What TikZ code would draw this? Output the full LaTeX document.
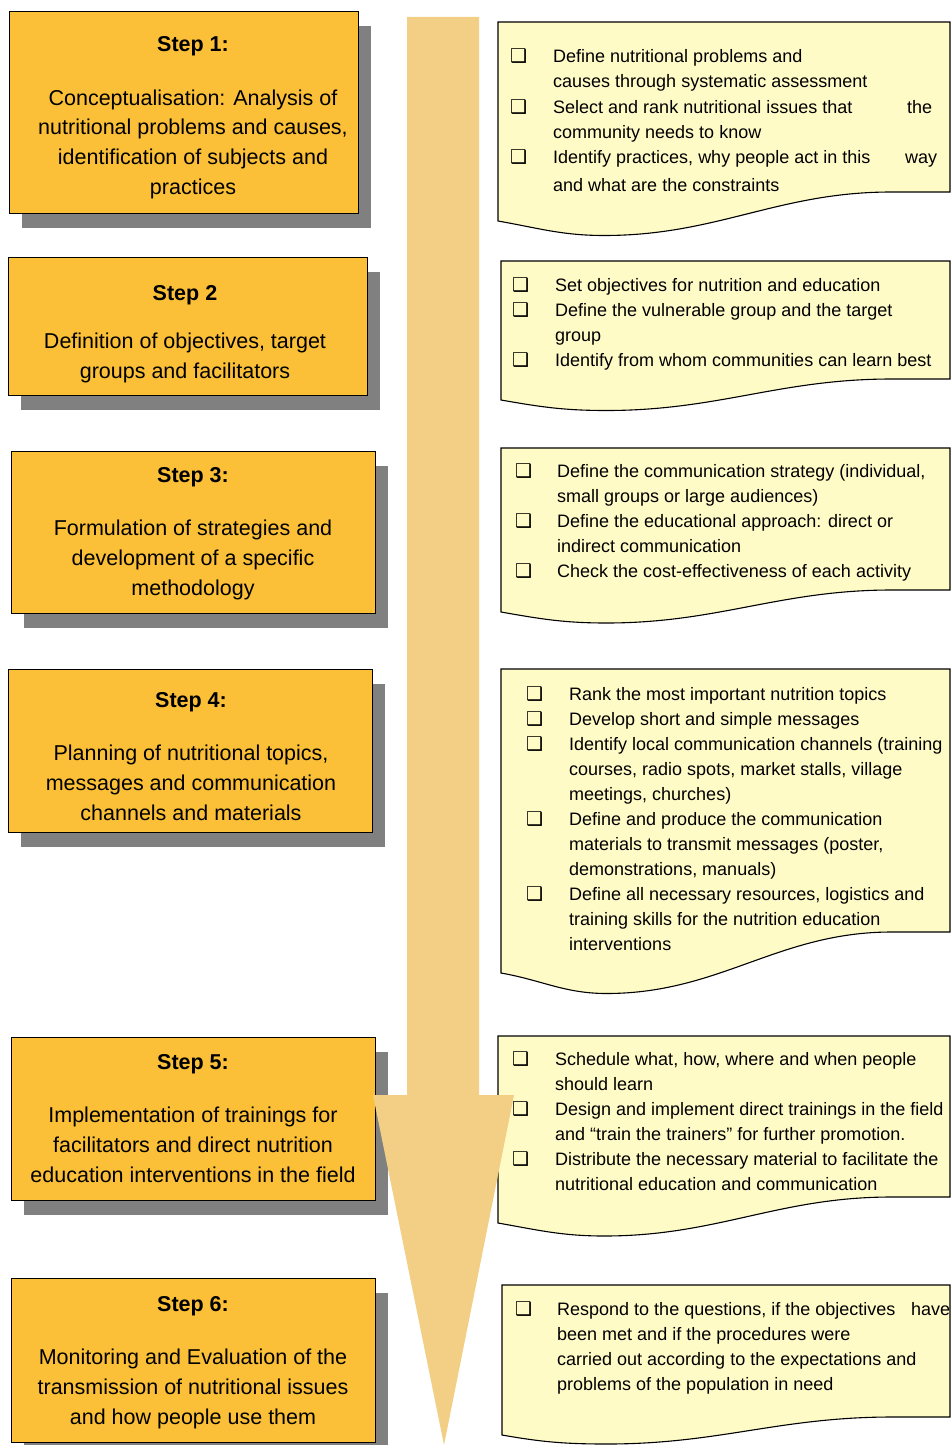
\documentclass[tikz,border=0pt]{standalone}
\usepackage{fontspec}
\setmainfont{Liberation Sans}
\newfontfamily\dejavu{DejaVu Sans}
\usetikzlibrary{shadows}
\definecolor{boxorange}{RGB}{251,192,55}
\definecolor{shadowgray}{RGB}{128,128,128}
\definecolor{docyellow}{RGB}{255,251,198}
\definecolor{arrowtan}{RGB}{242,207,133}
\newcounter{lnr}
\newcommand\stitlefont{\fontsize{21.5}{30}\selectfont\bfseries}
\newcommand\sbodyfont{\fontsize{21.5}{30}\selectfont}
\newcommand\dbodyfont{\fontsize{18}{25}\selectfont}
\newcommand\bulletfont{\fontsize{19}{25}\dejavu}
% centred line in a step box
\newcommand\sline[4]{\stepcounter{lnr}\node[#1] (t\arabic{lnr}) at (#2,#3) {#4};}
% line in a document box
\newcommand\dline[3]{\stepcounter{lnr}\node[dl] (t\arabic{lnr}) at (#1,#2) {#3};}
\newcommand\bline[2]{\stepcounter{lnr}\node[bul] (b\arabic{lnr}) at (#1,#2) {❑};}
% document shape: L T R B a
\newcommand\docshape[5]{%
  \pgfmathsetmacro\dsxa{#1+0.87*(#3-#1)}%
  \pgfmathsetmacro\dsxb{#1+0.235*(#3-#1)}%
  \pgfmathsetmacro\dsya{#4-2*#5}%
  \pgfmathsetmacro\dsyb{#4+#5}%
  \path[docbox] (#1,#2) -- (#3,#2) -- (#3,\dsya) -- (\dsxa,\dsya)
    to[out=180,in=0] (\dsxb,\dsyb)
    to[out=180,in=-10] (#1,#4) -- cycle;}
\begin{document}
\begin{tikzpicture}[x=1pt,y=-1pt,
  stepbox/.style={draw=black,line width=1.2pt,fill=boxorange,anchor=north west,
    inner sep=0pt,
    drop shadow={shadow xshift=12pt,shadow yshift=-14pt,fill=shadowgray,opacity=1}},
  docbox/.style={draw=black,line width=1.1pt,fill=docyellow},
  ttl/.style={font=\stitlefont,anchor=base,inner sep=0pt},
  bdy/.style={font=\sbodyfont,anchor=base,inner sep=0pt},
  dl/.style={font=\dbodyfont,anchor=base west,inner sep=0pt},
  bul/.style={font=\bulletfont,anchor=base west,inner sep=0pt},
]
\useasboundingbox (0,0) rectangle (952,1445);
\clip (0,0) rectangle (952,1445);

% step boxes
\node[stepbox,minimum width=349pt,minimum height=202pt] (s1) at (9,11) {};
\node[stepbox,minimum width=359pt,minimum height=138pt] (s2) at (8,257) {};
\node[stepbox,minimum width=364pt,minimum height=162pt] (s3) at (11,451) {};
\node[stepbox,minimum width=364pt,minimum height=163pt] (s4) at (8,669) {};
\node[stepbox,minimum width=364pt,minimum height=163pt] (s5) at (11,1037) {};
\node[stepbox,minimum width=364pt,minimum height=164pt] (s6) at (11,1278) {};

% document boxes
\docshape{498}{22}{950}{221}{14.5}
\docshape{501}{261}{950}{400}{10.5}
\docshape{501}{448}{950}{612}{11}
\docshape{501}{669}{950}{973}{20.5}
\docshape{498}{1036}{950}{1223}{13}
\docshape{502}{1285}{950}{1435}{9}

% big arrow
\fill[arrowtan] (407,17) -- (479,17) -- (479,1095) -- (514,1095) -- (444,1445)
  -- (373,1095) -- (407,1095) -- cycle;

% step texts
\sline{ttl}{193}{52}{Step 1:}
\sline{bdy}{193}{105}{Conceptualisation: Analysis of}
\sline{bdy}{193}{134}{nutritional problems and causes,}
\sline{bdy}{193}{164}{identification of subjects and}
\sline{bdy}{193}{194}{practices}

\sline{ttl}{185}{300}{Step 2}
\sline{bdy}{185}{348}{Definition of objectives, target}
\sline{bdy}{185}{378}{groups and facilitators}

\sline{ttl}{193}{482}{Step 3:}
\sline{bdy}{193}{535}{Formulation of strategies and}
\sline{bdy}{193}{565}{development of a specific}
\sline{bdy}{193}{595}{methodology}

\sline{ttl}{191}{707}{Step 4:}
\sline{bdy}{191}{760}{Planning of nutritional topics,}
\sline{bdy}{191}{790}{messages and communication}
\sline{bdy}{191}{820}{channels and materials}

\sline{ttl}{193}{1069}{Step 5:}
\sline{bdy}{193}{1122}{Implementation of trainings for}
\sline{bdy}{193}{1152}{facilitators and direct nutrition}
\sline{bdy}{193}{1182}{education interventions in the field}

\sline{ttl}{193}{1311}{Step 6:}
\sline{bdy}{193}{1364}{Monitoring and Evaluation of the}
\sline{bdy}{193}{1394}{transmission of nutritional issues}
\sline{bdy}{193}{1424}{and how people use them}

% doc 1
\bline{510}{63}\dline{553}{63}{Define nutritional problems and}
\dline{553}{88}{causes through systematic assessment}
\bline{510}{113}\dline{553}{113}{\hbox to 379pt{Select and rank nutritional issues that\hfill the}}
\dline{553}{138}{community needs to know}
\bline{510}{163}\dline{553}{163}{\hbox to 384pt{Identify practices, why people act in this\hfill way}}
\dline{553}{191}{and what are the constraints}

% doc 2
\bline{512}{291}\dline{555}{291}{Set objectives for nutrition and education}
\bline{512}{316}\dline{555}{316}{Define the vulnerable group and the target}
\dline{555}{341}{group}
\bline{512}{366}\dline{555}{366}{Identify from whom communities can learn best}

% doc 3
\bline{515}{477}\dline{557}{477}{Define the communication strategy (individual,}
\dline{557}{502}{small groups or large audiences)}
\bline{515}{527}\dline{557}{527}{Define the educational approach: direct or}
\dline{557}{552}{indirect communication}
\bline{515}{577}\dline{557}{577}{Check the cost-effectiveness of each activity}

% doc 4
\bline{526}{700}\dline{569}{700}{Rank the most important nutrition topics}
\bline{526}{725}\dline{569}{725}{Develop short and simple messages}
\bline{526}{750}\dline{569}{750}{Identify local communication channels (training}
\dline{569}{775}{courses, radio spots, market stalls, village}
\dline{569}{800}{meetings, churches)}
\bline{526}{825}\dline{569}{825}{Define and produce the communication}
\dline{569}{850}{materials to transmit messages (poster,}
\dline{569}{875}{demonstrations, manuals)}
\bline{526}{900}\dline{569}{900}{Define all necessary resources, logistics and}
\dline{569}{925}{training skills for the nutrition education}
\dline{569}{950}{interventions}

% doc 5
\bline{512}{1065}\dline{555}{1065}{Schedule what, how, where and when people}
\dline{555}{1090}{should learn}
\bline{512}{1115}\dline{555}{1115}{Design and implement direct trainings in the field}
\dline{555}{1140}{and “train the trainers” for further promotion.}
\bline{512}{1165}\dline{555}{1165}{Distribute the necessary material to facilitate the}
\dline{555}{1190}{nutritional education and communication}

% doc 6
\bline{515}{1315}\dline{557}{1315}{\hbox to 393pt{Respond to the questions, if the objectives\hfill have}}
\dline{557}{1340}{been met and if the procedures were}
\dline{557}{1365}{carried out according to the expectations and}
\dline{557}{1390}{problems of the population in need}
\end{tikzpicture}
\end{document}
